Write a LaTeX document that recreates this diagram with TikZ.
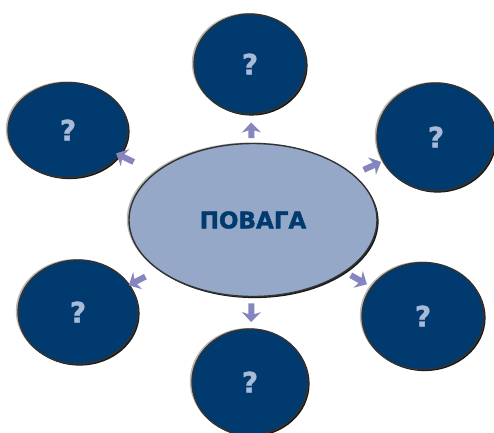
\documentclass[tikz,border=0pt]{standalone}
\usepackage{fontspec}
\setmainfont{DejaVu Sans}
\newfontfamily\heavy{DejaVu Sans}[BoldFeatures={FakeBold=1.5}]
\usetikzlibrary{shapes.geometric,arrows.meta,calc}

\definecolor{navy}{HTML}{003A6E}
\definecolor{pale}{HTML}{95A8C8}
\definecolor{quest}{HTML}{A9B9D8}
\definecolor{lilac}{HTML}{8585C0}

\begin{document}
\begin{tikzpicture}[x=1pt,y=-1pt,
  rim/.style={ellipse,inner sep=0pt,draw=black!80,line width=1.4pt,
    preaction={fill=gray!55,transform canvas={shift={(-2.2pt,1pt)}}},
    preaction={fill=black!90,transform canvas={shift={(1.6pt,-1.6pt)}}}},
  topic/.style={rim,fill=pale,text=navy,font=\heavy\bfseries\fontsize{23}{25}\selectfont},
  ask/.style={rim,fill=navy,text=quest,font=\heavy\bfseries\fontsize{28}{29}\selectfont},
  arr/.style={draw=lilac,line width=6pt,-{Stealth[length=10pt,width=19pt,inset=3pt]}}]

  \useasboundingbox (0,0) rectangle (494,432);

  % centre

  \node [topic,minimum width=248pt,minimum height=153pt] (pov) at (253,220) {ПОВАГА};

  % questions round it

  \node [ask,minimum width=112pt,minimum height=100pt] (up)  at (250,64)  {?};
  \node [ask,minimum width=120pt,minimum height=95pt]  (upl) at (68,130)  {?};
  \node [ask,minimum width=118pt,minimum height=108pt] (upr) at (436,137) {?};
  \node [ask,minimum width=120pt,minimum height=104pt] (dnl) at (78,312)  {?};
  \node [ask,minimum width=122pt,minimum height=107pt] (dnr) at (423,316) {?};
  \node [ask,minimum width=116pt,minimum height=106pt] (dn)  at (250,382) {?};

  % arrows

  \draw [arr] ($(pov.center)!0.525!(up.center)$)  -- ($(pov.center)!0.625!(up.center)$);
  \draw [arr] ($(pov.center)!0.645!(upl.center)$) -- ($(pov.center)!0.74!(upl.center)$);
  \draw [arr] ($(pov.center)!0.605!(upr.center)$) -- ($(pov.center)!0.70!(upr.center)$);
  \draw [arr] ($(pov.center)!0.615!(dnl.center)$) -- ($(pov.center)!0.71!(dnl.center)$);
  \draw [arr] ($(pov.center)!0.575!(dnr.center)$) -- ($(pov.center)!0.67!(dnr.center)$);
  \draw [arr] ($(pov.center)!0.515!(dn.center)$)  -- ($(pov.center)!0.63!(dn.center)$);
\end{tikzpicture}
\end{document}
